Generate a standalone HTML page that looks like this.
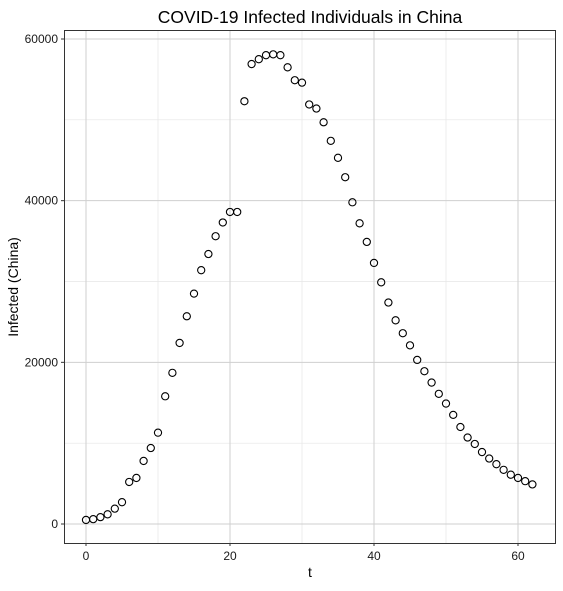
<!DOCTYPE html>
<html><head><meta charset="utf-8"><style>
body{margin:0;background:#fff;font-family:"Liberation Sans",Arial,sans-serif}
</style></head><body>
<svg width="563" height="586" xmlns="http://www.w3.org/2000/svg" font-family="Liberation Sans, Arial, sans-serif">
<rect width="563" height="586" fill="#fff"/>
<text x="310" y="23" font-size="17.5" text-anchor="middle" fill="#000">COVID-19 Infected Individuals in China</text>
<g id="grid"></g>
<g id="pts"></g>
<rect x="64.5" y="30.5" width="491" height="513" fill="none" stroke="#333" stroke-width="1"/>
<g id="axes"></g>
<text x="310" y="577" font-size="14" text-anchor="middle">t</text>
<text transform="translate(18,287) rotate(-90)" font-size="14" text-anchor="middle">Infected (China)</text>
</svg>
<script>
const tValues=[0,1,2,3,4,5,6,7,8,9,10,11,12,13,14,15,16,17,18,19,20,21,22,23,24,25,26,27,28,29,30,31,32,33,34,35,36,37,38,39,40,41,42,43,44,45,46,47,48,49,50,51,52,53,54,55,56,57,58,59,60,61,62];
const infected=[500,600,850,1200,1900,2700,5200,5700,7800,9400,11300,15800,18700,22400,25700,28500,31400,33400,35600,37300,38600,38600,52300,56900,57500,58000,58100,58000,56500,54900,54600,51900,51400,49700,47400,45300,42900,39800,37200,34900,32300,29900,27400,25200,23600,22100,20300,18900,17500,16100,14900,13500,12000,10700,9900,8900,8100,7400,6700,6100,5700,5300,4900];
const xTicks=[0,20,40,60];
const yTicks=[0,20000,40000,60000];
const xMinor=[10,30,50];
const yMinor=[10000,30000,50000];
const NS="http://www.w3.org/2000/svg";
const sx=v=>86+v*(518-86)/60;
const sy=v=>524-v*(524-39)/60000;
function mk(tag,attrs,parent){const e=document.createElementNS(NS,tag);for(const k in attrs)e.setAttribute(k,attrs[k]);parent.appendChild(e);return e;}
const grid=document.getElementById('grid'),axes=document.getElementById('axes'),pts=document.getElementById('pts');
xMinor.forEach(v=>{const l=mk('line',{x1:sx(v),x2:sx(v),y1:30,y2:543,stroke:'#e6e6e6','stroke-width':0.7},grid);

});
yMinor.forEach(v=>{const l=mk('line',{x1:64,x2:555,y1:sy(v),y2:sy(v),stroke:'#e6e6e6','stroke-width':0.7},grid);

});
xTicks.forEach(v=>{const l=mk('line',{x1:sx(v),x2:sx(v),y1:30,y2:543,stroke:'#cfcfcf','stroke-width':1},grid);


const tk=mk('line',{x1:sx(v),x2:sx(v),y1:543,y2:546,stroke:'#333'},axes);


const t=mk('text',{x:sx(v),y:560,'font-size':12,'text-anchor':'middle',fill:'#1a1a1a'},axes);t.textContent=v;

});
yTicks.forEach(v=>{const l=mk('line',{x1:64,x2:555,y1:sy(v),y2:sy(v),stroke:'#cfcfcf','stroke-width':1},grid);


const tk=mk('line',{x1:61,x2:64,y1:sy(v),y2:sy(v),stroke:'#333'},axes);


const t=mk('text',{x:58,y:sy(v)+4,'font-size':12,'text-anchor':'end',fill:'#1a1a1a'},axes);t.textContent=v;

});
tValues.forEach((t,i)=>{const c=mk('circle',{cx:sx(t),cy:sy(infected[i]),r:3.6,fill:'none',stroke:'#000','stroke-width':1.1},pts);

});
</script>
</body></html>
